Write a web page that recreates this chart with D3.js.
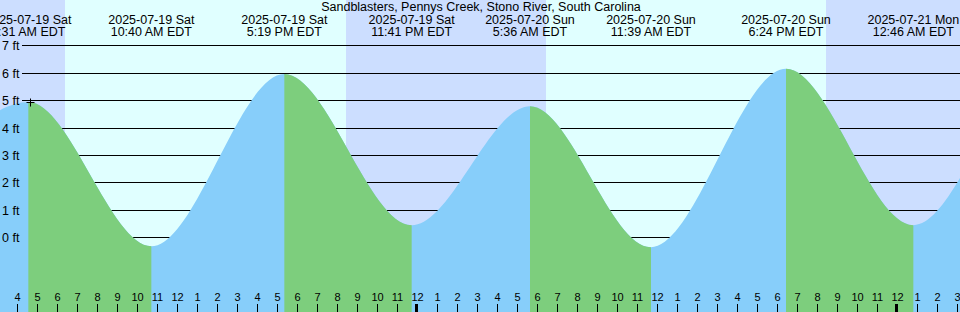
<!DOCTYPE html>
<html>
<head>
<meta charset="utf-8">
<script src="https://cdn.jsdelivr.net/npm/d3@7"></script>
<style>
  html, body { margin: 0; padding: 0; background: #fff; }
  svg { display: block; font-family: "Liberation Sans", Arial, sans-serif; }
</style>
</head>
<body>
<div id="chart"></div>
<script>
const stationName = "Sandblasters, Pennys Creek, Stono River, South Carolina";

// tide extremes (EDT clock time); first two and last two are just off the chart
const tideTimes = [
  "2025-07-18T16:10", "2025-07-18T22:00",
  "2025-07-19T04:31", "2025-07-19T10:40", "2025-07-19T17:19", "2025-07-19T23:41",
  "2025-07-20T05:36", "2025-07-20T11:39", "2025-07-20T18:24", "2025-07-21T00:46",
  "2025-07-21T07:00", "2025-07-21T13:00"
];
const tideHeights = [5.8, 2.5, 4.95, -0.31, 5.97, 0.46, 4.8, -0.34, 6.16, 0.46, 5.9, -0.2];
const tideIsHigh = [true, false, true, false, true, false, true, false, true, false, true, false];

// sun
const sunrises = ["2025-07-19T06:21", "2025-07-20T06:24"];
const sunsets = ["2025-07-19T20:24", "2025-07-20T20:24"];

const nowTime = "2025-07-19T04:36";
const nowHeight = 4.95;

const feetTicks = [0, 1, 2, 3, 4, 5, 6, 7];

const width = 960, height = 312;
const parse = d3.utcParse("%Y-%m-%dT%H:%M");

const x = d3.scaleUtc()
  .domain([parse("2025-07-19T04:00"), parse("2025-07-21T04:00")])
  .range([18, 18 + 48 * 20]);
const y = d3.scaleLinear().domain([0, 7]).range([237.8, 45.8]);

const tides = tideTimes.map((t, i) => ({ t: parse(t), h: tideHeights[i], high: tideIsHigh[i] }));

const svg = d3.select("#chart").append("svg")
  .attr("width", width).attr("height", height);

// background: night first, then day bands
const t0 = x.invert(0), t1 = x.invert(width);
svg.append("rect").attr("x", 0).attr("y", 0).attr("width", width).attr("height", height)
  .attr("fill", "#ccdeff");
svg.selectAll("rect.day")
  .data(sunrises.map((s, i) => [parse(s), parse(sunsets[i])]))
  .join("rect")
  .attr("class", "day")
  .attr("x", d => x(d[0]))
  .attr("y", 0)
  .attr("width", d => x(d[1]) - x(d[0]))
  .attr("height", height)
  .attr("fill", "#e0ffff");

// grid lines
svg.append("g").selectAll("line")
  .data(feetTicks)
  .join("line")
  .attr("x1", 22).attr("x2", width)
  .attr("y1", d => Math.floor(y(d)) + 0.5)
  .attr("y2", d => Math.floor(y(d)) + 0.5)
  .attr("stroke", "#000");

// tide area
const area = d3.area()
  .x(d => x(d.t))
  .y0(height)
  .y1(d => y(d.h))
  .curve(d3.curveMonotoneX);

svg.append("path").datum(tides).attr("d", area).attr("fill", "#87cefa");

// falling tide in green (high -> next low)
const falls = [];
tides.forEach((d, i) => { if (d.high && i + 1 < tides.length) falls.push([d.t, tides[i + 1].t]); });
const defs = svg.append("defs");
const clip = defs.append("clipPath").attr("id", "fall");
clip.selectAll("rect").data(falls).join("rect")
  .attr("x", d => x(d[0]))
  .attr("y", 0)
  .attr("width", d => x(d[1]) - x(d[0]))
  .attr("height", height);
svg.append("path").datum(tides).attr("d", area)
  .attr("fill", "#7dce7d").attr("clip-path", "url(#fall)");

// y labels
svg.append("g").selectAll("text")
  .data(feetTicks)
  .join("text")
  .attr("x", 2)
  .attr("y", d => Math.floor(y(d)) + 5)
  .attr("font-size", 12.5)
  .text(d => d + " ft");

// now marker
svg.append("path")
  .attr("transform", `translate(${Math.floor(x(parse(nowTime))) + 0.5},${Math.floor(y(nowHeight)) + 0.5})`)
  .attr("d", "M-4,0H4M0,-4V4")
  .attr("stroke", "#000");

// title
svg.append("text")
  .attr("x", width / 2 + 1).attr("y", 11)
  .attr("text-anchor", "middle")
  .attr("font-size", 12.5)
  .text(stationName);

// tide event labels
const fmtDate = d3.utcFormat("%Y-%m-%d %a");
const fmtTime = d3.utcFormat("%-I:%M %p EDT");
const visible = tides.filter(d => d.t >= t0 && d.t <= t1);
const lab = svg.append("g").selectAll("g").data(visible).join("g")
  .attr("transform", d => `translate(${x(d.t)},0)`);
lab.append("text").attr("y", 24).attr("text-anchor", "middle").attr("font-size", 12.5)
  .text(d => fmtDate(d.t));
lab.append("text").attr("y", 36).attr("text-anchor", "middle").attr("font-size", 12.5)
  .text(d => fmtTime(d.t));

// hour axis
const hours = x.ticks(d3.utcHour.every(1)).filter(d => x(d) >= 0 && x(d) <= width + 1);
const ax = svg.append("g");
ax.selectAll("line").data(hours).join("line")
  .attr("x1", d => d.getUTCHours() === 0 ? x(d) - 1.5 : x(d) - 0.5)
  .attr("x2", d => d.getUTCHours() === 0 ? x(d) - 1.5 : x(d) - 0.5)
  .attr("y1", 304).attr("y2", height)
  .attr("stroke", "#000")
  .attr("stroke-width", d => d.getUTCHours() === 0 ? 3 : 1);
ax.selectAll("text").data(hours).join("text")
  .attr("x", d => x(d) - 0.5)
  .attr("y", 301)
  .attr("text-anchor", "middle")
  .attr("font-size", 11)
  .text(d => d.getUTCHours() % 12 || 12);
</script>
</body>
</html>
